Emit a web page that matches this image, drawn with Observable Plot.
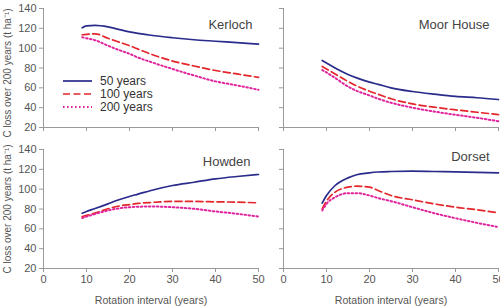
<!DOCTYPE html>
<html><head><meta charset="utf-8">
<script src="https://cdn.jsdelivr.net/npm/d3@7"></script>
<script src="https://cdn.jsdelivr.net/npm/@observablehq/plot@0.6"></script>
<style>
html,body{margin:0;padding:0;background:#fff;overflow:hidden;}
#wrap{position:relative;width:500px;height:306px;font-family:"Liberation Sans",Arial,sans-serif;}
#wrap svg{position:absolute;overflow:visible;}
.ylab{position:absolute;left:7px;font-size:10px;color:#555;white-space:nowrap;transform:translate(-50%,-50%) rotate(-90deg);}
#legend{position:absolute;left:63px;top:74px;font-size:12px;color:#333;}
.lg{display:flex;align-items:center;height:13px;}
.lg span{margin-left:8px;}
</style></head>
<body><div id="wrap"></div>
<script>
const rotation = [9, 10, 12, 15, 17, 20, 22, 25, 30, 35, 40, 45, 50];
const seriesNames = ["50 years", "100 years", "200 years"];
const seriesColors = ["#2b2b8c", "#e3262b", "#e0259c"];
const seriesDash = [null, "7,3.5", "1.6,2.4"];
const sites = ["Kerloch", "Moor House", "Howden", "Dorset"];

const kerloch50  = [120.5, 122.5, 123, 121.5, 119.5, 116.5, 115, 113, 110.5, 108.5, 107, 105.5, 104];
const kerloch100 = [113.5, 114, 114.5, 110, 107, 102.5, 99, 94, 87, 82, 77.5, 74, 70.5];
const kerloch200 = [111, 110, 108, 102.5, 99, 94.3, 90.5, 86, 79, 72.5, 66.5, 62.5, 58];

const moor50  = [87.6, 85, 80, 73.4, 70, 65.7, 63.5, 60, 56.3, 53.6, 51.3, 50, 48.2];
const moor100 = [81.5, 79, 74, 66.4, 62, 56.6, 53.5, 49, 43.8, 40.5, 37.8, 35.4, 33];
const moor200 = [78, 75.5, 70, 61.3, 57, 52.3, 49, 45, 40, 36.1, 32.8, 29.8, 26.3];

const howden50  = [75.8, 77.5, 80.5, 85.2, 88.5, 92.6, 95, 98.7, 103.7, 107, 110.4, 112.8, 114.8];
const howden100 = [72.4, 73.5, 76, 80.2, 82.5, 84.5, 85.6, 86.6, 87.6, 87.6, 87.2, 86.9, 86.2];
const howden200 = [71, 72.3, 75, 78.5, 80.3, 81.8, 82.3, 82.5, 81.8, 80.2, 77.5, 75.2, 72.4];

const dorset50  = [85.9, 93.6, 103.7, 111.4, 114.5, 116.5, 117.3, 117.8, 118.1, 117.8, 117.5, 117, 116.5];
const dorset100 = [80.2, 87.9, 97, 102, 103, 102, 98.7, 93.6, 89.3, 85.2, 81.8, 79.2, 76.2];
const dorset200 = [78.5, 85.2, 91.9, 96, 96, 93.6, 91, 87.9, 81.8, 75.8, 70.7, 66, 61.7];

const yTicks = [20, 40, 60, 80, 100, 120, 140];
const xTicks = [0, 10, 20, 30, 40, 50];
const xTitle = "Rotation interval (years)";
const yTitle = "C loss over 200 years (t ha\u207B\u00B9)";

const siteSeries = {
  "Kerloch": [kerloch50, kerloch100, kerloch200],
  "Moor House": [moor50, moor100, moor200],
  "Howden": [howden50, howden100, howden200],
  "Dorset": [dorset50, dorset100, dorset200]
};

const panels = [
  {site: "Kerloch", left: 0, top: 0, width: 262, height: 140, ml: 43, mr: 4, mt: 8, mb: 13, xl: false, yl: true, tdx: -6, tdy: 16, labShift: 5},
  {site: "Moor House", left: 250, top: 0, width: 250, height: 140, ml: 33, mr: 2, mt: 8, mb: 13, xl: false, yl: false, tdx: -9, tdy: 16},
  {site: "Howden", left: 0, top: 140, width: 262, height: 166, ml: 43, mr: 4, mt: 9, mb: 38, xl: true, yl: true, tdx: -8, tdy: 12, labShift: 0},
  {site: "Dorset", left: 250, top: 140, width: 250, height: 166, ml: 33, mr: 2, mt: 9, mb: 38, xl: true, yl: false, tdx: -9, tdy: 7}
];

const wrap = document.getElementById("wrap");
const axisColor = "#9a9a9a";
const textColor = "#555";

for (const p of panels) {
  const rows = [];
  siteSeries[p.site].forEach((vals, si) => {
    vals.forEach((v, i) => rows.push({x: rotation[i], y: v, s: si}));
  });
  const lineMarks = seriesNames.map((name, si) =>
    Plot.line(rows.filter(d => d.s === si), {
      x: "x", y: "y", stroke: seriesColors[si], strokeWidth: si === 2 ? 2 : 1.7,
      strokeDasharray: seriesDash[si], curve: "monotone-x"
    })
  );
  const chart = Plot.plot({
    width: p.width, height: p.height,
    marginLeft: p.ml, marginRight: p.mr, marginTop: p.mt, marginBottom: p.mb,
    style: {fontFamily: '"Liberation Sans", Arial, sans-serif', background: "transparent", overflow: "visible"},
    x: {domain: [0, 50], label: null},
    y: {domain: [20, 140], label: null},
    marks: [
      Plot.ruleX([0], {stroke: axisColor, strokeWidth: 1}),
      Plot.ruleY([20], {stroke: axisColor, strokeWidth: 1}),
      Plot.axisY({ticks: yTicks, tickSize: 4, tickPadding: 3, stroke: axisColor, color: textColor, fontSize: 11, label: null,
        tickFormat: p.yl ? (d => String(d)) : (() => "")}),
      Plot.axisX({ticks: xTicks, tickSize: 4, tickPadding: 3, stroke: axisColor, color: textColor, fontSize: 11, label: null,
        tickFormat: p.xl ? (d => String(d)) : (() => "")}),
      ...lineMarks,
      Plot.text([p.site], {frameAnchor: "top-right", text: d => d, textAnchor: "end", dx: p.tdx, dy: p.tdy,
        fontSize: 13, fill: "#444", lineAnchor: "middle"}),
      ...(p.xl ? [Plot.text([xTitle], {frameAnchor: "bottom", text: d => d, dy: 32, fontSize: 10.6, fill: textColor, lineAnchor: "middle"})] : [])
    ]
  });
  chart.style.left = p.left + "px";
  chart.style.top = p.top + "px";
  wrap.appendChild(chart);
  if (p.yl) {
    const lab = document.createElement("div");
    lab.className = "ylab";
    lab.textContent = yTitle;
    lab.style.top = (p.top + p.mt + (p.height - p.mt - p.mb) / 2 + p.labShift) + "px";
    wrap.appendChild(lab);
  }
}

// legend
const legend = document.createElement("div");
legend.id = "legend";
seriesNames.forEach((name, si) => {
  const row = document.createElement("div");
  row.className = "lg";
  const svg = d3.create("svg").attr("width", 29).attr("height", 6).style("position", "static");
  svg.append("line").attr("x1", 0).attr("x2", 29).attr("y1", 3).attr("y2", 3)
    .attr("stroke", seriesColors[si]).attr("stroke-width", si === 2 ? 2 : 1.7)
    .attr("stroke-dasharray", seriesDash[si]);
  row.appendChild(svg.node());
  const t = document.createElement("span");
  t.textContent = name;
  row.appendChild(t);
  legend.appendChild(row);
});
wrap.appendChild(legend);
</script></body></html>
